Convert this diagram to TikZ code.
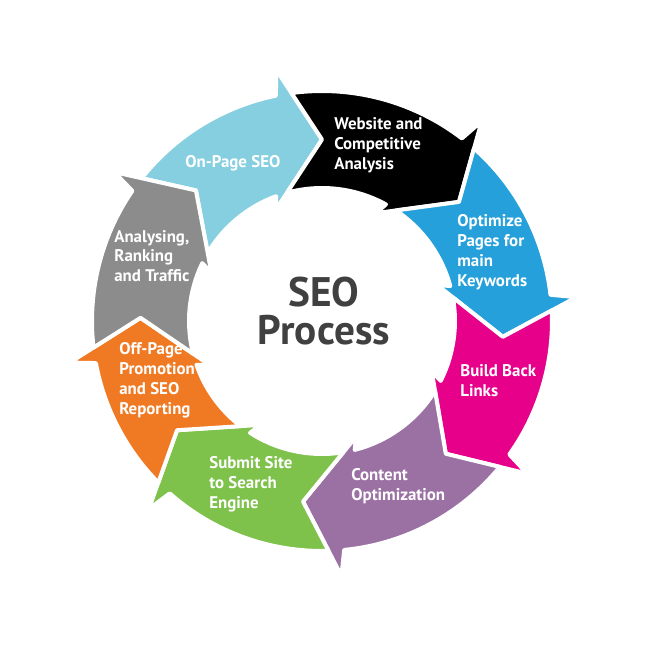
\documentclass[tikz,border=0pt]{standalone}
\usepackage{fontspec}
\setmainfont{PT Sans}
\usepackage{xcolor}
\usepackage{tikz}
\usetikzlibrary{positioning,calc}

\definecolor{onpagecol}{HTML}{86CFE0}
\definecolor{websitecol}{HTML}{000000}
\definecolor{optimizecol}{HTML}{26A0DA}
\definecolor{backlinkcol}{HTML}{E6008A}
\definecolor{contentcol}{HTML}{9B71A4}
\definecolor{submitcol}{HTML}{7EC14B}
\definecolor{offpagecol}{HTML}{F07A23}
\definecolor{analysecol}{HTML}{8C8C8C}
\definecolor{titlecol}{HTML}{404040}

\tikzset{
  segment/.style={draw=white,line width=0.08cm,line join=round},
  seglabel/.style={text=white,font=\bfseries\fontsize{9.6}{11.3}\selectfont,align=left,inner sep=0pt,anchor=west}
}

\begin{document}
\begin{tikzpicture}[x=0.02cm,y=0.02cm]
\useasboundingbox (-322,-329) rectangle (328,321);
\coordinate (O) at (0,0);

% tip angle / tip angle of the arrow before / colour
\foreach \t/\p/\c in {90/134/onpagecol,41/90/websitecol,-5/41/optimizecol,-47/-5/backlinkcol,-96/-47/contentcol,-143/-96/submitcol,-181/-143/offpagecol,-226/-181/analysecol}{
  \filldraw[fill=\c,segment] (\p+7.63:230) arc[start angle=\p+7.63,end angle=\t+11.54,radius=230]
    -- (\t+10.36:255.67) -- (\t:181.5) -- (\t+22.42:120.62) -- (\t+20.23:133)
    arc[start angle=\t+20.23,end angle=\p+15.23,radius=133]
    -- (\p:181.5) -- cycle;
}

\node[seglabel] (onpage) at (-137,158) {On-Page SEO};
\node[seglabel] (website) at (12,176) {Website and\\Competitive\\Analysis};
\node[seglabel] (optimize) at (135,69) {Optimize\\Pages for\\main\\Keywords};
\node[seglabel] (backlinks) at (138,-60) {Build Back\\Links};
\node[seglabel] (content) at (29,-165) {Content\\Optimization};
\node[seglabel] (submit) at (-113,-163) {Submit Site\\to Search\\Engine};
\node[seglabel] (offpage) at (-203,-59) {Off-Page\\Promotion\\and SEO\\Reporting};
\node[seglabel] (analyse) at (-208,65) {Analysing,\\Ranking\\and Traffic};

\node[text=titlecol,font=\bfseries\fontsize{23.5}{21.5}\selectfont,align=center,inner sep=0pt] (title) at (2,10) {SEO\\Process};

\end{tikzpicture}
\end{document}
